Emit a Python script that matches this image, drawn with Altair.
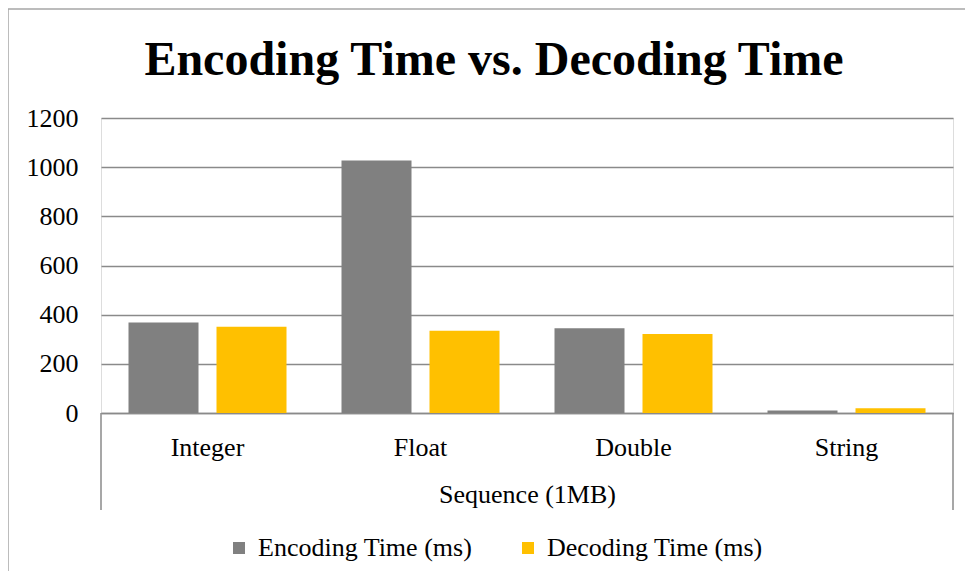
import altair as alt
import pandas as pd

categories = ["Integer", "Float", "Double", "String"]
encoding = [368, 1027, 345, 10]
decoding = [351, 335, 321, 19]
series = ["Encoding Time (ms)", "Decoding Time (ms)"]
colors = ["#808080", "#FFC000"]
y_ticks = [0, 200, 400, 600, 800, 1000, 1200]
title_text = ["Encoding Time vs. Decoding Time"]

rows = []
for i, c in enumerate(categories):
    rows.append({"Category": c, "Series": series[0], "Value": encoding[i]})
    rows.append({"Category": c, "Series": series[1], "Value": decoding[i]})
df = pd.DataFrame(rows)

W, H = 852, 295
FONT = "Liberation Serif"
GRID = "#8a8a8a"

deco = pd.DataFrame({"a": [0]})

border = alt.Chart(deco).mark_rect(fillOpacity=0, stroke="#a6a6a6", strokeWidth=1.5).encode(
    x=alt.value(-93), x2=alt.value(W + 40), y=alt.value(-109), y2=alt.value(H + 200)
)

left_rule = alt.Chart(deco).mark_rule(color=GRID, strokeWidth=1.5).encode(
    x=alt.value(0), y=alt.value(H), y2=alt.value(H + 97)
)
right_rule = alt.Chart(deco).mark_rule(color=GRID, strokeWidth=1.5).encode(
    x=alt.value(W), y=alt.value(H), y2=alt.value(H + 97)
)

title = alt.Chart(pd.DataFrame({"t": title_text})).mark_text(
    font=FONT, fontSize=48, fontWeight="bold", color="black", align="center", baseline="alphabetic"
).encode(text="t:N", x=alt.value(393), y=alt.value(-43))

bars = alt.Chart(df).mark_bar().encode(
    x=alt.X(
        "Category:N",
        sort=categories,
        scale=alt.Scale(paddingInner=0, paddingOuter=0),
        axis=alt.Axis(
            title="Sequence (1MB)",
            labelAngle=0,
            ticks=False,
            domain=True,
            domainColor=GRID,
            domainWidth=1.5,
            labelPadding=21,
            titlePadding=21,
            labelFont=FONT,
            labelFontSize=26,
            labelColor="black",
            titleFont=FONT,
            titleFontSize=26,
            titleFontWeight="normal",
            titleColor="black",
        ),
    ),
    xOffset=alt.XOffset(
        "Series:N", sort=series, scale=alt.Scale(paddingInner=0.2045, paddingOuter=0.3125)
    ),
    y=alt.Y(
        "Value:Q",
        scale=alt.Scale(domain=[0, 1200]),
        axis=alt.Axis(
            values=y_ticks,
            format="d",
            title=None,
            domain=False,
            ticks=False,
            grid=True,
            gridColor=GRID,
            gridWidth=1.5,
            labelPadding=23,
            labelFont=FONT,
            labelFontSize=26,
            labelColor="black",
        ),
    ),
    color=alt.Color(
        "Series:N",
        sort=series,
        scale=alt.Scale(domain=series, range=colors),
        legend=alt.Legend(
            title=None,
            orient="none",
            legendX=125,
            legendY=417,
            direction="horizontal",
            symbolType="square",
            symbolSize=144,
            symbolStrokeWidth=0,
            labelFont=FONT,
            labelFontSize=26,
            labelColor="black",
            labelOffset=6,
            columnPadding=42,
            padding=0,
            labelLimit=400,
        ),
    ),
)

chart = alt.layer(border, title, bars, left_rule, right_rule).properties(
    width=W,
    height=H,
    autosize=alt.AutoSizeParams(type="none"),
    padding={"left": 93, "top": 110, "right": 12, "bottom": 158},
).configure_view(stroke=None).configure(background="white")

chart.save("out.html", embed_options={"renderer": "svg", "actions": False})
